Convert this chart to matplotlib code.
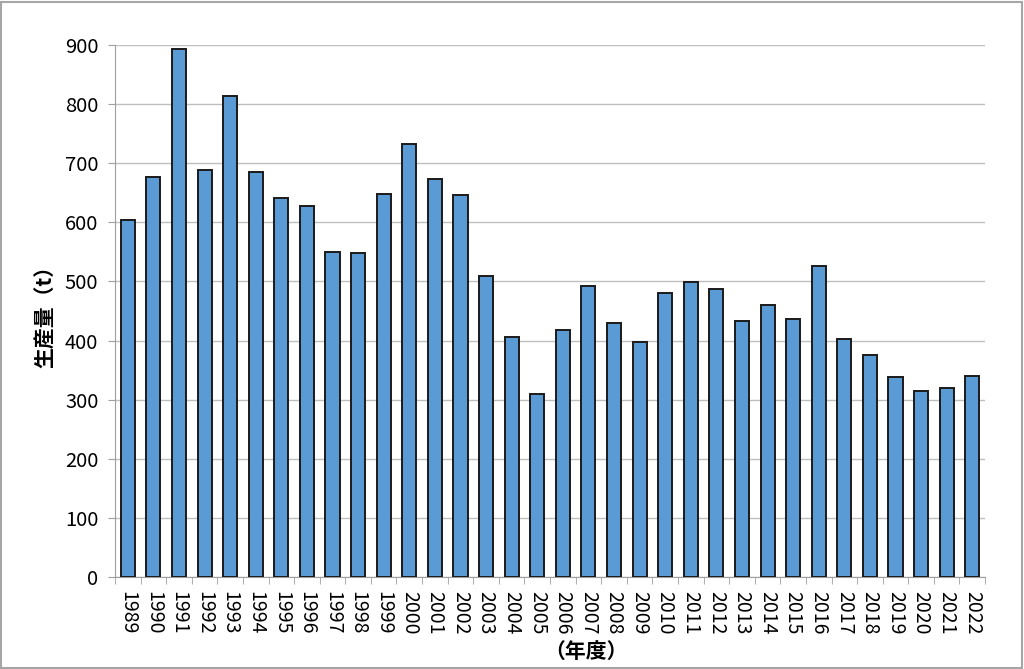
import matplotlib.pyplot as plt
from matplotlib.patches import Rectangle
import numpy as np

plt.rcParams['font.family'] = ['Noto Sans CJK JP', 'DejaVu Sans']

# ── data ─────────────────────────────────────────────
years = [str(y) for y in range(1989, 2023)]
production = [604, 677, 893, 688, 814, 685, 641, 628, 550, 548,
              648, 733, 673, 646, 509, 406, 310, 418, 492, 430,
              398, 480, 499, 487, 433, 460, 436, 526, 403, 376,
              338, 315, 320, 340]
yticks = [0, 100, 200, 300, 400, 500, 600, 700, 800, 900]

# ── plot ─────────────────────────────────────────────
fig = plt.figure(figsize=(10.24, 6.69), dpi=100)
ax = fig.add_axes([0.1123, 0.1375, 0.8497, 0.7952])

x = np.arange(len(years))
ax.bar(x, production, width=0.55, color="#5b9bd5", edgecolor="#1a1a1a",
       linewidth=1.4, zorder=3)

ax.set_xlim(-0.5, len(years) - 0.5)
ax.set_ylim(0, 900)
ax.set_yticks(yticks)
ax.set_yticklabels([str(v) for v in yticks], fontsize=14.5)
ax.yaxis.grid(True, color="#bfbfbf", linewidth=1.0, zorder=0)

ax.set_xticks(x)
ax.set_xticklabels(years, rotation=270, fontsize=14)
ax.tick_params(axis="x", length=0, pad=10)
# minor ticks at category boundaries
ax.set_xticks(np.arange(-0.5, len(years), 1), minor=True)
ax.tick_params(axis="x", which="minor", length=5, color="#9f9f9f", direction="out")
ax.tick_params(axis="y", length=5, color="#9f9f9f", direction="out", pad=7)

for side in ["top", "right"]:
    ax.spines[side].set_visible(False)
ax.spines["left"].set_color("#9f9f9f")
ax.spines["bottom"].set_color("#9f9f9f")

ax.set_ylabel("生産量（t）", fontsize=15, fontweight="bold", labelpad=6)
fig.text(0.572, 0.026, "（年度）", fontsize=15, fontweight="bold",
         ha="center", va="center")

# grey frame around the figure
fig.patches.append(Rectangle((0.001, 0.002), 0.997, 0.995, transform=fig.transFigure,
                             fill=False, edgecolor="#a6a6a6", linewidth=1.5))

plt.savefig("out.png", dpi=100)
